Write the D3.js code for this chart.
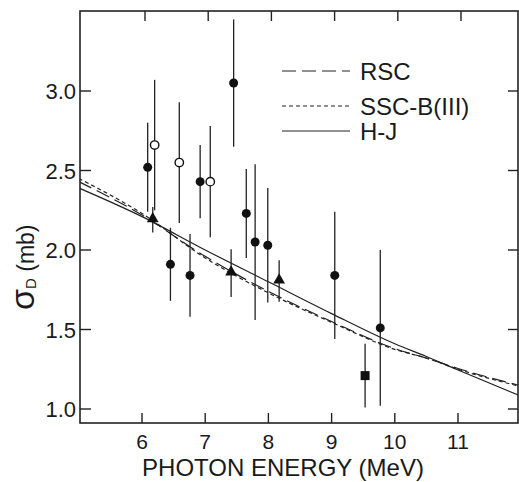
<!DOCTYPE html>
<html>
<head>
<meta charset="utf-8">
<script src="https://cdn.jsdelivr.net/npm/d3@7"></script>
<style>
  body { margin: 0; background: #fff; }
  text { font-family: "Liberation Sans", Arial, sans-serif; fill: #1a1a1a; }
</style>
</head>
<body>
<div id="chart"></div>
<script>
// photon energy (MeV) for the theory curves
var curveE = [5.0, 6.0, 7.0, 8.0, 9.0, 10.0, 10.5, 11.0, 12.0];
var rscCurve = [2.43, 2.22, 1.96, 1.74, 1.55, 1.38, 1.32, 1.255, 1.145];
var sscCurve = [2.45, 2.23, 1.95, 1.73, 1.545, 1.375, 1.32, 1.25, 1.14];
var hjCurve = [2.39, 2.21, 2.00, 1.80, 1.60, 1.41, 1.33, 1.245, 1.08];

// measurements, sigma_D in mb
var filledE = [6.09, 6.45, 6.76, 6.92, 7.45, 7.65, 7.79, 7.99, 9.05, 9.77];
var filledV = [2.52, 1.91, 1.84, 2.43, 3.05, 2.23, 2.05, 2.03, 1.84, 1.51];
var filledErr = [0.28, 0.23, 0.26, 0.23, 0.40, 0.28, 0.49, 0.36, 0.40, 0.49];

var openE = [6.20, 6.59, 7.08];
var openV = [2.66, 2.55, 2.43];
var openErr = [0.41, 0.38, 0.35];

var triE = [6.17, 7.41, 8.17];
var triV = [2.19, 1.855, 1.805];
var triErr = [0.08, 0.15, 0.13];

var squareE = [9.53];
var squareV = [1.21];
var squareErr = [0.20];

var xTicks = [6, 7, 8, 9, 10, 11];
var yTicks = [1.0, 1.5, 2.0, 2.5, 3.0];
var legendNames = ["RSC", "SSC-B(III)", "H-J"];

var width = 519, height = 482;
// note: "top" is taken by window.top, so plot edges get their own names
var plotL = 80, plotR = 518, plotT = 11, plotB = 423;

var x = d3.scaleLinear().domain([6, 11]).range([142, 458]);
var y = d3.scaleLinear().domain([1, 3]).range([409, 91]);

var svg = d3.select("#chart").append("svg")
  .attr("width", width)
  .attr("height", height);

svg.append("defs").append("clipPath").attr("id", "plotclip")
  .append("rect")
  .attr("x", plotL).attr("y", plotT)
  .attr("width", plotR - plotL).attr("height", plotB - plotT);

// frame
svg.append("rect")
  .attr("x", plotL).attr("y", plotT)
  .attr("width", plotR - plotL).attr("height", plotB - plotT)
  .attr("fill", "none")
  .attr("stroke", "#222")
  .attr("stroke-width", 1.6);

// ticks pointing inward on all four sides
var tickLen = 10;
svg.selectAll(".xtb").data(xTicks).enter().append("line")
  .attr("x1", function (d) { return x(d); }).attr("x2", function (d) { return x(d); })
  .attr("y1", plotB).attr("y2", plotB - tickLen)
  .attr("stroke", "#222").attr("stroke-width", 1.4);
svg.selectAll(".xtt").data(xTicks).enter().append("line")
  .attr("x1", function (d) { return x(d) + 3; }).attr("x2", function (d) { return x(d) + 3; })
  .attr("y1", plotT).attr("y2", plotT + tickLen)
  .attr("stroke", "#222").attr("stroke-width", 1.4);
svg.selectAll(".ytl").data(yTicks).enter().append("line")
  .attr("x1", plotL).attr("x2", plotL + tickLen + 1)
  .attr("y1", function (d) { return y(d); }).attr("y2", function (d) { return y(d); })
  .attr("stroke", "#222").attr("stroke-width", 1.4);
svg.selectAll(".ytr").data(yTicks).enter().append("line")
  .attr("x1", plotR).attr("x2", plotR - tickLen)
  .attr("y1", function (d) { return y(d); }).attr("y2", function (d) { return y(d); })
  .attr("stroke", "#222").attr("stroke-width", 1.4);

// tick labels
svg.selectAll(".xl").data(xTicks).enter().append("text")
  .attr("x", function (d) { return x(d); })
  .attr("y", 449)
  .attr("text-anchor", "middle")
  .attr("font-size", 21)
  .text(function (d) { return d; });
svg.selectAll(".yl").data(yTicks).enter().append("text")
  .attr("x", 76)
  .attr("y", function (d) { return y(d) + 8; })
  .attr("text-anchor", "end")
  .attr("font-size", 22)
  .text(function (d) { return d.toFixed(1); });

// axis titles
svg.append("text")
  .attr("x", 283).attr("y", 476)
  .attr("text-anchor", "middle")
  .attr("font-size", 24)
  .text("PHOTON ENERGY (MeV)");

var ytitle = svg.append("text")
  .attr("transform", "translate(34,310) rotate(-90)");
ytitle.append("tspan").attr("font-size", 34).text("σ");
ytitle.append("tspan").attr("font-size", 15).attr("dy", 2).text("D");
ytitle.append("tspan").attr("font-size", 23).attr("dy", -2).text(" (mb)");

// theory curves
var curves = [
  { name: "RSC", vals: rscCurve, dash: "14,6" },
  { name: "SSC-B(III)", vals: sscCurve, dash: "4,3" },
  { name: "H-J", vals: hjCurve, dash: null }
];

var line = d3.line()
  .x(function (d) { return x(d[0]); })
  .y(function (d) { return y(d[1]); })
  .curve(d3.curveMonotoneX);

var plot = svg.append("g").attr("clip-path", "url(#plotclip)");

plot.selectAll(".curve").data(curves).enter().append("path")
  .attr("d", function (c) { return line(curveE.map(function (e, i) { return [e, c.vals[i]]; })); })
  .attr("fill", "none")
  .attr("stroke", "#222")
  .attr("stroke-width", 1.2)
  .attr("stroke-dasharray", function (c) { return c.dash; });

// error bars
function errorBars(es, vs, errs) {
  plot.selectAll(null).data(es).enter().append("line")
    .attr("x1", function (d) { return x(d); }).attr("x2", function (d) { return x(d); })
    .attr("y1", function (d, i) { return y(vs[i] + errs[i]); })
    .attr("y2", function (d, i) { return y(vs[i] - errs[i]); })
    .attr("stroke", "#222")
    .attr("stroke-width", 1.3);
}
errorBars(filledE, filledV, filledErr);
errorBars(openE, openV, openErr);
errorBars(triE, triV, triErr);
errorBars(squareE, squareV, squareErr);

// markers
plot.selectAll(".filled").data(filledE).enter().append("circle")
  .attr("cx", function (d) { return x(d); })
  .attr("cy", function (d, i) { return y(filledV[i]); })
  .attr("r", 4.5)
  .attr("fill", "#111");

plot.selectAll(".open").data(openE).enter().append("circle")
  .attr("cx", function (d) { return x(d); })
  .attr("cy", function (d, i) { return y(openV[i]); })
  .attr("r", 4.2)
  .attr("fill", "#fff")
  .attr("stroke", "#111")
  .attr("stroke-width", 1.4);

var tri = d3.symbol().type(d3.symbolTriangle).size(60);
plot.selectAll(".tri").data(triE).enter().append("path")
  .attr("d", tri)
  .attr("transform", function (d, i) { return "translate(" + x(d) + "," + (y(triV[i]) - 1) + ")"; })
  .attr("fill", "#111");

plot.selectAll(".sq").data(squareE).enter().append("rect")
  .attr("x", function (d) { return x(d) - 4.5; })
  .attr("y", function (d, i) { return y(squareV[i]) - 4.5; })
  .attr("width", 9).attr("height", 9)
  .attr("fill", "#111");

// legend
var legendY = [71, 106, 131];
var legend = svg.selectAll(".legend").data(curves).enter().append("g");
legend.append("line")
  .attr("x1", 282).attr("x2", 350)
  .attr("y1", function (d, i) { return legendY[i]; })
  .attr("y2", function (d, i) { return legendY[i]; })
  .attr("stroke", "#222")
  .attr("stroke-width", 1.2)
  .attr("stroke-dasharray", function (d) { return d.dash; });
legend.append("text")
  .attr("x", 360)
  .attr("y", function (d, i) { return legendY[i] + 9; })
  .attr("font-size", 24)
  .text(function (d, i) { return legendNames[i]; });
</script>
</body>
</html>
